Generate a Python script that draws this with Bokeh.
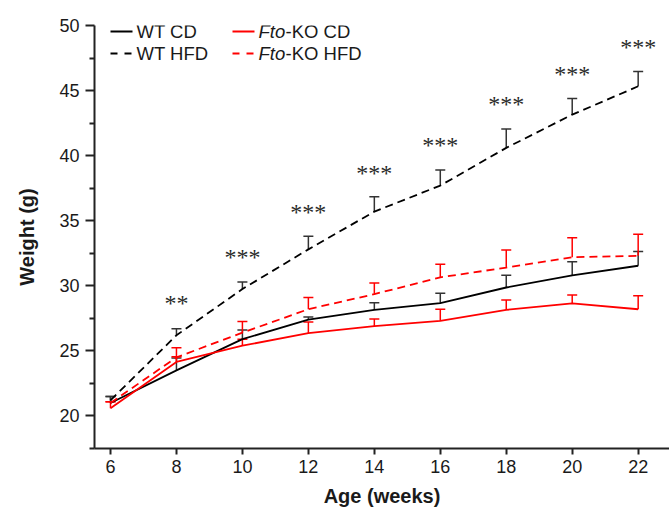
from bokeh.plotting import figure
from bokeh.models import (Range1d, Whisker, TeeHead, ColumnDataSource, Label,
                          Arrow, FixedTicker)
from bokeh.embed import file_html
from bokeh.resources import INLINE
from bokeh.core.properties import value

# ---- data ----
weeks = [6, 8, 10, 12, 14, 16, 18, 20, 22]
wt_cd = [21.0, 23.5, 25.9, 27.4, 28.15, 28.67, 29.87, 30.8, 31.54]
wt_cd_err = [0.5, 0.95, 0.7, 0.2, 0.55, 0.75, 0.95, 1.05, 1.1]
wt_hfd = [21.2, 26.2, 29.75, 32.8, 35.7, 37.7, 40.6, 43.15, 45.33]
wt_hfd_err = [0.3, 0.5, 0.55, 1.0, 1.15, 1.2, 1.45, 1.25, 1.13]
ko_cd = [20.6, 24.15, 25.4, 26.36, 26.9, 27.3, 28.15, 28.65, 28.2]
ko_cd_err = [0.5, 0.4, 0.5, 0.85, 0.55, 0.9, 0.75, 0.65, 1.03]
ko_hfd = [21.0, 24.5, 26.4, 28.2, 29.36, 30.65, 31.4, 32.2, 32.3]
ko_hfd_err = [0.1, 0.75, 0.85, 0.9, 0.85, 1.0, 1.35, 1.5, 1.67]

sig_weeks = [8, 10, 12, 14, 16, 18, 20, 22]
sig_labels = ["**", "***", "***", "***", "***", "***", "***", "***"]
sig_y = [28.8, 32.4, 35.8, 38.85, 40.95, 44.1, 46.4, 48.5]

y_ticks = [20, 25, 30, 35, 40, 45, 50]
y_minor = [17.5, 22.5, 27.5, 32.5, 37.5, 42.5, 47.5]
x_ticks = [6, 8, 10, 12, 14, 16, 18, 20, 22]

RED = "#ff0000"
BLACK = "#000000"
GREY = "#333333"
FONT = "Liberation Sans"

p = figure(width=669, height=515, output_backend="svg", toolbar_location=None,
           x_range=Range1d(5.515, 22.95), y_range=Range1d(17.5, 50),
           min_border_left=94, min_border_right=0, min_border_top=25,
           min_border_bottom=67)
p.outline_line_color = None
p.xgrid.grid_line_color = None
p.ygrid.grid_line_color = None
p.background_fill_color = "white"

series = [
    (wt_cd, wt_cd_err, BLACK, "solid"),
    (wt_hfd, wt_hfd_err, BLACK, "8 5"),
    (ko_cd, ko_cd_err, RED, "solid"),
    (ko_hfd, ko_hfd_err, RED, "8 5"),
]

sources = []
for ys, errs, col, dash in series:
    src = ColumnDataSource(dict(x=weeks, y=ys,
                                upper=[a + b for a, b in zip(ys, errs)]))
    sources.append(src)
    p.line("x", "y", source=src, line_color=col, line_width=1.8, line_dash=dash)

for src, (ys, errs, col, dash) in zip(sources, series):
    wc = GREY if col == BLACK else col
    w = Whisker(base="x", lower="y", upper="upper", source=src,
                line_color=wc, line_width=1.5, lower_head=None,
                upper_head=TeeHead(size=10, line_color=wc, line_width=1.5))
    p.add_layout(w)

sig_src = ColumnDataSource(dict(x=sig_weeks, y=sig_y, t=sig_labels))
p.text("x", "y", text="t", source=sig_src, text_font=value("Liberation Serif"),
       text_font_size="24px", text_color="#2a2a2a", text_align="center",
       text_baseline="middle", y_offset=2)

# axes
for ax in (p.xaxis[0], p.yaxis[0]):
    ax.axis_line_width = 2
    ax.axis_line_color = "#222222"
    ax.major_tick_line_color = "#222222"
    ax.major_tick_line_width = 2
    ax.minor_tick_line_color = "#222222"
    ax.minor_tick_line_width = 2
    ax.major_tick_in = 0
    ax.minor_tick_in = 0
    ax.major_label_text_font = FONT
    ax.major_label_text_font_size = "18px"
    ax.major_label_text_color = "#1a1a1a"
    ax.axis_label_text_font = FONT
    ax.axis_label_text_font_size = "20px"
    ax.axis_label_text_font_style = "bold"
    ax.axis_label_text_color = "#1a1a1a"

p.yaxis[0].ticker = FixedTicker(ticks=y_ticks, minor_ticks=y_minor)
p.yaxis[0].major_tick_out = 9
p.yaxis[0].minor_tick_out = 5
p.yaxis[0].major_label_standoff = 6
p.yaxis[0].axis_label = "Weight (g)"
p.yaxis[0].axis_label_standoff = 18

p.xaxis[0].ticker = FixedTicker(ticks=x_ticks, minor_ticks=[])
p.xaxis[0].major_tick_out = 6
p.xaxis[0].minor_tick_out = 0
p.xaxis[0].major_label_standoff = 5
p.xaxis[0].axis_label = "Age (weeks)"
p.xaxis[0].axis_label_standoff = 9

# manual legend (screen units relative to the frame)
legend_items = [
    (16, 417, BLACK, "solid", None, "WT CD"),
    (16, 395, BLACK, "7 7", None, "WT HFD"),
    (138, 417, RED, "solid", "Fto", "-KO CD"),
    (138, 395, RED, "7 7", "Fto", "-KO HFD"),
]
for lx, ly, col, dash, ital, txt in legend_items:
    p.add_layout(Arrow(x_start=lx, y_start=ly, x_end=lx + 22, y_end=ly,
                       start_units="screen", end_units="screen", start=None, end=None,
                       line_color=col, line_width=1.8, line_dash=dash))
    tx = lx + 26
    if ital:
        p.add_layout(Label(x=tx, y=ly, x_units="screen", y_units="screen", text=ital,
                           text_font=FONT, text_font_size="18.5px",
                           text_font_style="italic", text_baseline="middle",
                           text_color="#1a1a1a"))
        tx += 27
    p.add_layout(Label(x=tx, y=ly, x_units="screen", y_units="screen", text=txt,
                       text_font=FONT, text_font_size="18.5px",
                       text_baseline="middle", text_color="#1a1a1a"))

open("out.html", "w").write(file_html(p, INLINE))
